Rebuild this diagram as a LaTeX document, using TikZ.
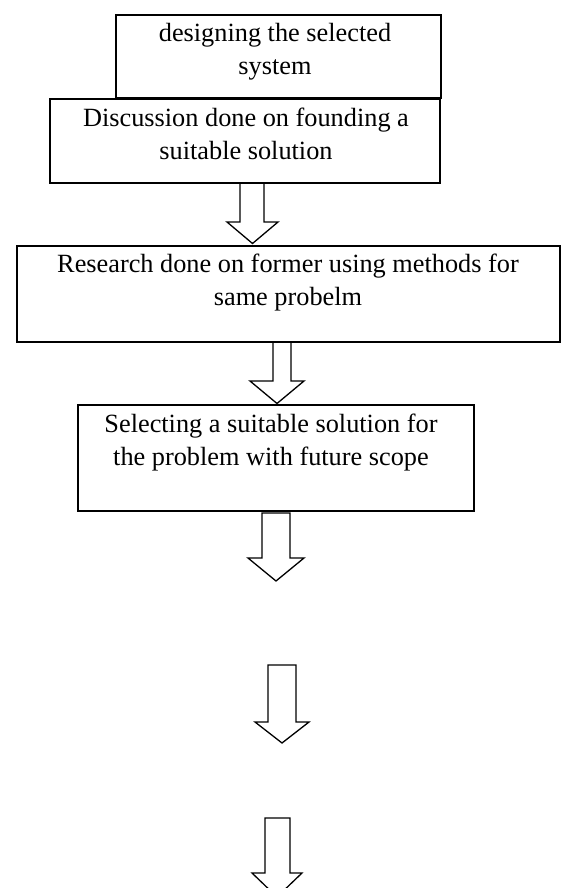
\documentclass[tikz,border=0pt]{standalone}
\usepackage{fontspec}
\setmainfont{Liberation Serif}
\begin{document}
\begin{tikzpicture}[x=1pt,y=-1pt,
  box/.style={draw=black,line width=2pt,inner sep=0pt,outer sep=0pt},
  txt/.style={align=center,inner sep=0pt,anchor=north,font=\fontsize{26.3}{33}\selectfont},
  blockarrow/.style={draw=black,line width=1.3pt,fill=white,line join=miter}]
\clip (0,0) rectangle (562,888);
% boxes
\node[box,minimum width=325pt,minimum height=83pt] (b1) at (278.5,56.5) {};
\node[box,minimum width=390pt,minimum height=83.5pt] (b2) at (245,140.75) {};
\node[box,minimum width=543pt,minimum height=96pt] (b3) at (288.5,294) {};
\node[box,minimum width=396pt,minimum height=106pt] (b4) at (276,458) {};
% texts
\node[txt] (t1) at (275,23) {designing the selected\\system};
\node[txt] (t2) at (246,108) {Discussion done on founding a\\suitable solution};
\node[txt] (t3) at (288,254) {Research done on former using methods for\\same probelm};
\node[txt] (t4) at (271,414) {Selecting a suitable solution for\\the problem with future scope};
% block arrows
\draw[blockarrow] (240,183) -- (240,222) -- (227,222) -- (252.5,243.5) -- (278,222) -- (264,222) -- (264,183) -- cycle;
\draw[blockarrow] (273,342) -- (273,381) -- (250,381) -- (277,403.5) -- (304,381) -- (291,381) -- (291,342) -- cycle;
\draw[blockarrow] (262,513) -- (262,558) -- (248,558) -- (276,581) -- (304,558) -- (290,558) -- (290,513) -- cycle;
\draw[blockarrow] (268,665) -- (268,722) -- (255,722) -- (282,743) -- (309,722) -- (296,722) -- (296,665) -- cycle;
\draw[blockarrow] (265,818) -- (265,873) -- (252,873) -- (277,897) -- (302,873) -- (290,873) -- (290,818) -- cycle;
% redraw box edges over arrow tops
\draw[line width=2pt] (b2.south west) -- (b2.south east);
\draw[line width=2pt] (b3.south west) -- (b3.south east);
\end{tikzpicture}
\end{document}
